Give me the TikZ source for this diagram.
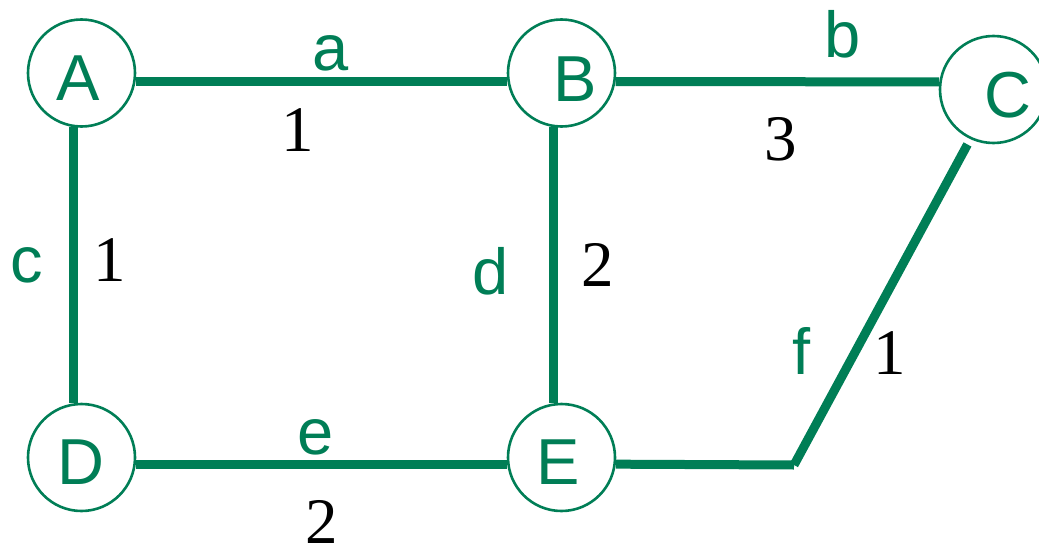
\documentclass[tikz,border=0pt]{standalone}
\usepackage{fontspec}
\setmainfont{Liberation Serif}
\setsansfont{Liberation Sans}
\definecolor{cLink}{RGB}{0,126,86}

\begin{document}
\begin{tikzpicture}[
  x=1pt, y=-1pt,
  vertex/.style={circle, draw=cLink, line width=2.6pt, fill=white,
    minimum size=107pt, inner sep=0pt},
  vname/.style={font=\sffamily\fontsize{65}{70}\selectfont, text=cLink, inner sep=0pt},
  lname/.style={font=\sffamily\fontsize{65}{70}\selectfont, text=cLink, inner sep=0pt},
  wt/.style={font=\rmfamily\fontsize{65}{70}\selectfont, text=black, inner sep=0pt},
  link/.style={draw=cLink, line width=9pt},
]
\useasboundingbox (0,0) rectangle (1039,546);

% Vertices
\node[vertex] (A) at (81.5,73) {};
\node[vertex] (B) at (561.5,73) {};
\node[vertex] (C) at (993.5,89.5) {};
\node[vertex] (D) at (81.5,457.5) {};
\node[vertex] (E) at (561.5,457.5) {};
\node[vname] (nA) at (78,78.5) {A};
\node[vname] (nB) at (575,79) {B};
\node[vname] (nC) at (1008,95) {C};
\node[vname] (nD) at (81,462) {D};
\node[vname] (nE) at (558.5,462) {E};

% Edges
\coordinate (bend) at (794,465);
\draw[link] (A.-9) -- (B.189);
\draw[link] (B.-9) -- (C.172);
\draw[link] (A.262) -- (D.98);
\draw[link] (B.262) -- (E.98);
\draw[link] (D.-7) -- (E.187);
\draw[link] (E.-7) -- (bend);
\draw[link, shorten >=6pt] (bend) -- (C.245);

% Edge names and weights
\node[lname] (la) at (331,53.5) {a};
\node[wt] (wa) at (298,130) {1};
\node[lname] (lb) at (843,34) {b};
\node[wt] (wb) at (781,139) {3};
\node[lname] (lc) at (26.5,265) {c};
\node[wt] (wc) at (109.5,260.5) {1};
\node[lname] (ld) at (490.5,271) {d};
\node[wt] (wd) at (598,265) {2};
\node[lname] (le) at (316,437) {e};
\node[wt] (we) at (322,522) {2};
\node[lname] (lf) at (801.5,350.5) {f};
\node[wt] (wf) at (889.5,353) {1};

\end{tikzpicture}
\end{document}
